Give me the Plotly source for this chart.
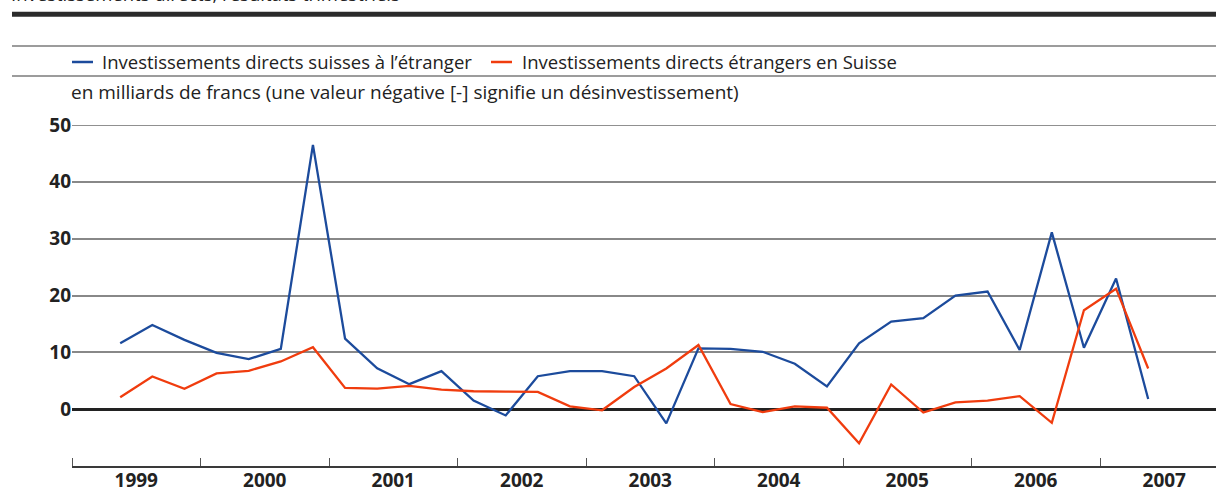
import plotly.graph_objects as go

# ---- data ----
quarters = ["1999 T2", "1999 T3", "1999 T4", "2000 T1", "2000 T2", "2000 T3", "2000 T4",
            "2001 T1", "2001 T2", "2001 T3", "2001 T4", "2002 T1", "2002 T2", "2002 T3",
            "2002 T4", "2003 T1", "2003 T2", "2003 T3", "2003 T4", "2004 T1", "2004 T2",
            "2004 T3", "2004 T4", "2005 T1", "2005 T2", "2005 T3", "2005 T4", "2006 T1",
            "2006 T2", "2006 T3", "2006 T4", "2007 T1", "2007 T2"]
suisses_etranger = [11.6, 14.8, 12.2, 9.9, 8.8, 10.6, 46.5, 12.4, 7.2, 4.4, 6.7, 1.5, -1.1,
                    5.8, 6.7, 6.7, 5.8, -2.5, 10.7, 10.6, 10.1, 8.0, 4.0, 11.6, 15.4, 16.0,
                    20.0, 20.7, 10.4, 31.1, 10.8, 23.0, 1.8]
etrangers_suisse = [2.1, 5.75, 3.6, 6.3, 6.75, 8.4, 10.9, 3.75, 3.6, 4.1, 3.45, 3.15, 3.1,
                    3.05, 0.5, -0.2, 3.9, 7.15, 11.3, 0.9, -0.5, 0.5, 0.25, -6.0, 4.35, -0.6,
                    1.2, 1.5, 2.3, -2.4, 17.4, 21.2, 7.15]
years = [1999, 2000, 2001, 2002, 2003, 2004, 2005, 2006, 2007]
year_labels = ["1999", "2000", "2001", "2002", "2003", "2004", "2005", "2006", "2007"]
y_ticks = [0, 10, 20, 30, 40, 50]
series_names = ["Investissements directs suisses à l’étranger",
                "Investissements directs étrangers en Suisse"]
title_text = "Investissements directs, résultats trimestriels"
subtitle_text = "en milliards de francs (une valeur négative [-] signifie un désinvestissement)"

BLUE = "#1c4b9c"
RED = "#f03c0e"
FONT = "Open Sans"


def qpos(label):
    y, q = label.split(" T")
    return int(y) + (int(q) - 0.5) / 4


x = [qpos(q) for q in quarters]

fig = go.Figure()
fig.add_trace(go.Scatter(x=x, y=suisses_etranger, mode="lines", name=series_names[0],
                         line=dict(color=BLUE, width=2.3), showlegend=False))
fig.add_trace(go.Scatter(x=x, y=etrangers_suisse, mode="lines", name=series_names[1],
                         line=dict(color=RED, width=2.3), showlegend=False))

W, H = 1216, 489
L, R, T, B = 72, 0, 125, 23
PW, PH = W - L - R, H - T - B


def px_to_paper_x(px):
    return (px - L) / PW


def px_to_paper_y(py):
    return 1 + (T - py) / PH


shapes = []
# thick top bar
shapes.append(dict(type="line", xref="paper", yref="paper",
                   x0=px_to_paper_x(12), x1=1, y0=px_to_paper_y(14.3), y1=px_to_paper_y(14.3),
                   line=dict(color="#2b2b2b", width=5)))
# thin separator lines
for py in (46, 76):
    shapes.append(dict(type="line", xref="paper", yref="paper",
                       x0=px_to_paper_x(12), x1=1, y0=px_to_paper_y(py), y1=px_to_paper_y(py),
                       line=dict(color="#3a3a3a", width=1.2)))
# darker gridlines at 50 and 10
for yv in (50, 10):
    shapes.append(dict(type="line", xref="paper", yref="y", x0=0, x1=1, y0=yv, y1=yv,
                       line=dict(color="#222222", width=1.2), layer="below"))
# legend samples
shapes.append(dict(type="line", xref="paper", yref="paper",
                   x0=px_to_paper_x(72), x1=px_to_paper_x(93),
                   y0=px_to_paper_y(62), y1=px_to_paper_y(62),
                   line=dict(color=BLUE, width=2.5)))
shapes.append(dict(type="line", xref="paper", yref="paper",
                   x0=px_to_paper_x(491), x1=px_to_paper_x(512),
                   y0=px_to_paper_y(62), y1=px_to_paper_y(62),
                   line=dict(color=RED, width=2.5)))

annotations = [
    dict(text=title_text, xref="paper", yref="paper", x=px_to_paper_x(9),
         y=px_to_paper_y(-6), xanchor="left", yanchor="middle", showarrow=False,
         font=dict(family=FONT, size=18.5, color="#222222")),
    dict(text=series_names[0], xref="paper", yref="paper", x=px_to_paper_x(100),
         y=px_to_paper_y(62), xanchor="left", yanchor="middle", showarrow=False,
         font=dict(family=FONT, size=18.5, color="#222222")),
    dict(text=series_names[1], xref="paper", yref="paper", x=px_to_paper_x(520),
         y=px_to_paper_y(62), xanchor="left", yanchor="middle", showarrow=False,
         font=dict(family=FONT, size=18.5, color="#222222")),
    dict(text=subtitle_text, xref="paper", yref="paper", x=px_to_paper_x(69),
         y=px_to_paper_y(92), xanchor="left", yanchor="middle", showarrow=False,
         font=dict(family=FONT, size=19, color="#222222")),
]

fig.update_layout(
    width=W, height=H,
    margin=dict(l=L, r=R, t=T, b=B, pad=0, autoexpand=False),
    plot_bgcolor="white", paper_bgcolor="white",
    shapes=shapes, annotations=annotations,
    font=dict(family=FONT, color="#222222"),
)

fig.update_xaxes(
    range=[1999, 1999 + PW / 128.5], automargin=False,
    tickmode="array", tickvals=[yv + 0.5 for yv in years], ticktext=year_labels,
    ticks="", ticklen=0, ticklabelstandoff=-4, showgrid=False, zeroline=False,
    showline=True, linecolor="#3a3a3a", linewidth=1.5,
    tickfont=dict(family=FONT, size=19, color="#222222", weight="bold"),
    minor=dict(tickmode="array", tickvals=years, ticks="inside", ticklen=8,
               tickcolor="#555555", tickwidth=1.2, showgrid=False),
)
fig.update_yaxes(
    range=[-10, 50], tickmode="array", tickvals=y_ticks, automargin=False,
    showgrid=True, gridcolor="#888888", gridwidth=1.5,
    zeroline=True, zerolinecolor="#222222", zerolinewidth=2.5,
    ticks="", ticklen=0, showline=False,
    tickfont=dict(family=FONT, size=19, color="#222222", weight="bold"),
)

fig.write_html("out.html", config={"displayModeBar": False},
               post_script="document.body.style.margin='0';document.body.style.overflow='hidden';")
